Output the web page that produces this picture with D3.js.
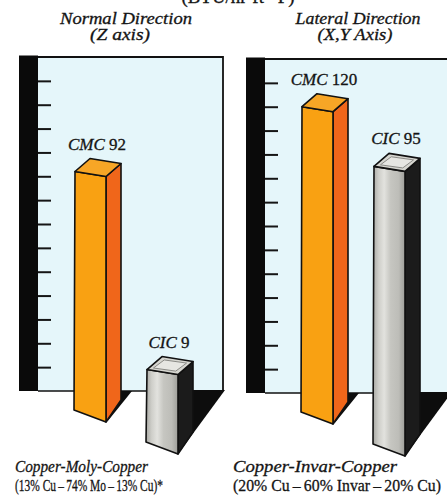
<!DOCTYPE html>
<html>
<head>
<meta charset="utf-8">
<script src="https://cdn.jsdelivr.net/npm/d3@7/dist/d3.min.js"></script>
<style>
  html, body { margin: 0; padding: 0; background: #fff; overflow: hidden; }
  svg { display: block; }
  svg text { font-family: "Liberation Serif", "DejaVu Serif", serif; fill: #141414; stroke: #141414; stroke-width: 0.3px; }
</style>
</head>
<body>
<svg id="chart" width="447" height="502"></svg>
<script>
// ---- data ----
const unitLabel = "(BTU/hr-ft-°F)";
const panelTitles = ["Normal Direction", "Lateral Direction"];
const panelAxes = ["(Z axis)", "(X,Y Axis)"];
const materials = ["CMC", "CIC"];
const normalValues = [92, 9];
const lateralValues = [120, 95];
const tickValues = [10, 20, 30, 40, 50, 60, 70, 80, 90, 100, 110, 120, 130];
const materialNames = ["Copper-Moly-Copper", "Copper-Invar-Copper"];
const materialMixes = ["(13% Cu\u2009\u2013\u200974% Mo\u2009\u2013\u200913% Cu)*",
                       "(20% Cu\u2009\u2013\u200960% Invar\u2009\u2013\u200920% Cu)"];

const panels = [normalValues, lateralValues].map((vals, i) => ({
  index: i,
  title: panelTitles[i],
  axis: panelAxes[i],
  bars: materials.map((m, j) => ({ material: m, value: vals[j] }))
}));

// ---- layout ----
const svg = d3.select("#chart");
const FONT = '"Liberation Serif", "DejaVu Serif", serif';
const STRIP_W = 19;      // black scale strip
const WALL_W = 185;      // back wall width
const BW = 31;           // bar front width
const TOP_SLANT = 5, DX = 15, DY_TOP = -13, BOT_SLANT = 12, DY_BOT = -22;

const panelX = d3.scaleLinear().domain([0, 1]).range([19, 246]);
const panelY = d3.scaleLinear().domain([0, 1]).range([0, 2]);
const y = d3.scaleLinear().domain([0, 140]).range([391, 57]);
const barX = d3.scalePoint().domain(materials).range([56, 128]);
const floorY = d3.scalePoint().domain(materials).range([410, 442]);
const labelX = d3.scaleLinear().domain([0, 1]).range([15, 233]);

const colors = {
  CMC: { front: "#F9A112", side: "#F0661A", top: "#F7A626", inner: null },
  CIC: { front: "url(#grayFront)", side: "#1b1b1b", top: "#D6D6D0", inner: "#E6E6E2" }
};

const defs = svg.append("defs");
const gf = defs.append("linearGradient").attr("id", "grayFront");
[["0%", "#A9A9A4"], ["18%", "#CFCFCA"], ["35%", "#E2E2DE"], ["55%", "#C6C6C1"], ["80%", "#BDBDB8"], ["100%", "#9E9E99"]]
  .forEach(([o, c]) => gf.append("stop").attr("offset", o).attr("stop-color", c));

const line = d3.line();
const poly = pts => line(pts) + "Z";

const addText = (sel, opts) => {
  const t = sel.append("text").attr("font-family", FONT);
  Object.entries(opts).forEach(([k, v]) => { if (k !== "text") t.attr(k, v); });
  if (opts.text !== undefined) t.text(opts.text);
  return t;
};

// unit label, partly above the top edge
addText(svg, {
  x: 238, y: 3, "text-anchor": "middle", "font-size": 18,
  textLength: 113, lengthAdjust: "spacingAndGlyphs", text: unitLabel
});

panels.forEach(p => {
  const g = svg.append("g")
    .attr("transform", `translate(${panelX(p.index)},${panelY(p.index)})`);

  // titles
  addText(g, {
    x: 107 + (p.index ? 5 : 0), y: 24 - panelY(p.index),
    "text-anchor": "middle", "font-style": "italic", "font-size": 17,
    textLength: p.index ? 125 : 132, lengthAdjust: "spacingAndGlyphs", text: p.title
  });
  addText(g, {
    x: 101 + (p.index ? 8 : 0), y: 40 - panelY(p.index),
    "text-anchor": "middle", "font-style": "italic", "font-size": 16.5,
    textLength: p.index ? 75 : 60, lengthAdjust: "spacingAndGlyphs", text: p.axis
  });

  // back wall
  g.append("rect")
    .attr("x", STRIP_W).attr("y", y(140))
    .attr("width", WALL_W).attr("height", y(0) - y(140))
    .attr("fill", "#E5F6FA");
  g.append("path")
    .attr("d", line([[STRIP_W, y(140)], [STRIP_W + WALL_W, y(140)], [STRIP_W + WALL_W, y(0)]]))
    .attr("fill", "none").attr("stroke", "#111").attr("stroke-width", 1.8);
  g.append("line")
    .attr("x1", STRIP_W).attr("x2", STRIP_W + WALL_W)
    .attr("y1", y(0)).attr("y2", y(0))
    .attr("stroke", "#111").attr("stroke-width", 1.6);

  // black scale strip with ticks
  g.append("rect")
    .attr("x", 0).attr("y", y(140) - 1.5)
    .attr("width", STRIP_W).attr("height", y(0) - y(140) + 1.5)
    .attr("fill", "#0a0a0a");
  const ax = g.append("g")
    .attr("transform", `translate(${STRIP_W},0)`)
    .call(d3.axisRight(y).tickValues(tickValues).tickSize(13).tickFormat(""));
  ax.select(".domain").remove();
  ax.selectAll(".tick line").attr("stroke", "#151515").attr("stroke-width", 2);

  // bars
  p.bars.forEach(b => {
    const x0 = barX(b.material);
    const yt = y(b.value);
    const yb = floorY(b.material);
    const c = colors[b.material];
    const big = b.material === "CIC";

    // cast shadow on the floor
    const shadow = big
      ? [[x0 + BW + DX - 2, y(0) - 1], [x0 + BW + DX + 32, y(0) - 1], [x0 + BW, yb + BOT_SLANT]]
      : [[x0 + BW + DX - 1, y(0)], [x0 + BW + DX + 11, y(0)], [x0 + BW + 1, yb + BOT_SLANT]];
    g.append("path").attr("d", poly(shadow)).attr("fill", "#0d0d0d");

    const front = [[x0, yt], [x0 + BW, yt + TOP_SLANT], [x0 + BW, yb + BOT_SLANT], [x0 - 1, yb]];
    const side = [[x0 + BW, yt + TOP_SLANT], [x0 + BW + DX, yt + TOP_SLANT + DY_TOP],
                  [x0 + BW + DX, yb + BOT_SLANT + DY_BOT], [x0 + BW, yb + BOT_SLANT]];
    const top = [[x0, yt], [x0 + BW, yt + TOP_SLANT], [x0 + BW + DX, yt + TOP_SLANT + DY_TOP], [x0 + DX, yt + DY_TOP]];

    const bg = g.append("g")
      .attr("stroke", "#111").attr("stroke-width", 1.6).attr("stroke-linejoin", "round");
    bg.append("path").attr("d", poly(side)).attr("fill", c.side);
    bg.append("path").attr("d", poly(front)).attr("fill", c.front);
    bg.append("path").attr("d", poly(top)).attr("fill", c.top);
    if (c.inner) {
      const cx = d3.mean(top, d => d[0]), cy = d3.mean(top, d => d[1]);
      const inner = top.map(([px, py]) => [cx + (px - cx) * 0.72, cy + (py - cy) * 0.62]);
      bg.append("path").attr("d", poly(inner))
        .attr("fill", c.inner).attr("stroke", "#8a8a86").attr("stroke-width", 1);
    }

    // value label
    const t = addText(g, {
      x: x0 + 22, y: yt - 22, "text-anchor": "middle", "font-size": 17
    });
    t.append("tspan").attr("font-style", "italic").text(b.material);
    t.append("tspan").text("\u00a0" + b.value);
  });
});

// material legend along the bottom
[0, 1].forEach(i => {
  addText(svg, {
    x: labelX(i), y: 472, "font-style": "italic", "font-size": 17,
    textLength: i ? 164 : 133, lengthAdjust: "spacingAndGlyphs", text: materialNames[i]
  });
  addText(svg, {
    x: labelX(i), y: 491, "font-size": 17,
    textLength: i ? 208 : 148, lengthAdjust: "spacingAndGlyphs", text: materialMixes[i]
  });
});
</script>
</body>
</html>
